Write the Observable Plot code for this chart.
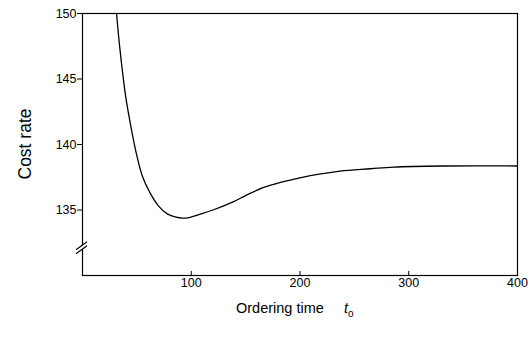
<!DOCTYPE html>
<html>
<head>
<meta charset="utf-8">
<script src="https://cdn.jsdelivr.net/npm/d3@7"></script>
<script src="https://cdn.jsdelivr.net/npm/@observablehq/plot@0.6"></script>
<style>
  html, body { margin: 0; padding: 0; background: #fff; }
  svg { display: block; }
</style>
</head>
<body>
<div id="chart"></div>
<script>
// Ordering time t_o
const orderingTime = [31.3, 34, 37, 40, 44, 49, 55, 62.5, 70, 78, 86, 92, 98, 107, 120, 138, 150, 166, 182, 200, 219, 237, 265, 286, 332, 400];
// Cost rate
const costRate = [150.0, 147.6, 145.4, 143.5, 141.6, 139.5, 137.6, 136.25, 135.3, 134.7, 134.45, 134.38, 134.42, 134.65, 135.0, 135.6, 136.1, 136.7, 137.1, 137.45, 137.75, 137.97, 138.15, 138.28, 138.36, 138.36];
const xTicks = [100, 200, 300, 400];
const yTicks = [135, 140, 145, 150];
const xDomain = [0, 400];
const yDomain = [130, 150];
const breakAt = [132];

const data = orderingTime.map((t, i) => ({t, c: costRate[i]}));
const font = "'Liberation Sans', Arial, Helvetica, sans-serif";

const W = 532, H = 338;
const mL = 82, mR = 15, mT = 13, mB = 63;

const breakMark = (index, scales) => {
  const g = d3.create("svg:g");
  for (const b of breakAt) {
    const x0 = scales.x(xDomain[0]);
    const y0 = scales.y(b);
    g.append("polygon")
      .attr("points", `${x0-6},${y0+1} ${x0+5},${y0-7} ${x0+5},${y0-3} ${x0-6},${y0+5}`)
      .attr("fill", "white");
    g.append("line").attr("x1", x0-6).attr("y1", y0+1).attr("x2", x0+5).attr("y2", y0-7)
      .attr("stroke", "black").attr("stroke-width", 1.1);
    g.append("line").attr("x1", x0-6).attr("y1", y0+5).attr("x2", x0+5).attr("y2", y0-3)
      .attr("stroke", "black").attr("stroke-width", 1.1);
  }
  return g.node();
};

const chart = Plot.plot({
  width: W,
  height: H,
  marginLeft: mL,
  marginRight: mR,
  marginTop: mT,
  marginBottom: mB,
  style: {fontFamily: font, fontSize: "12.5px", color: "black", background: "white"},
  x: {domain: xDomain, ticks: xTicks, label: null},
  y: {domain: yDomain, ticks: yTicks, label: null},
  marks: [
    Plot.frame({stroke: "black", strokeWidth: 1.2}),
    Plot.axisX({ticks: xTicks, tickSize: 0, tickPadding: 3, fontSize: 12.5, label: null}),
    Plot.tickX(xTicks, {x: d => d, insetTop: (H - mT - mB) - 4, stroke: "black", strokeWidth: 1}),
    Plot.axisY({ticks: yTicks, tickSize: 5, tickPadding: 1, fontSize: 12.5, label: null}),
    Plot.line(data, {x: "t", y: "c", curve: "catmull-rom", stroke: "black", strokeWidth: 1.3, clip: true}),
    breakMark
  ]
});

const svg = d3.select(chart);
// y label
svg.append("text")
  .attr("transform", "rotate(-90)")
  .attr("x", -144)
  .attr("y", 31)
  .attr("text-anchor", "middle")
  .attr("font-family", font)
  .attr("font-size", 17.5)
  .attr("fill", "black")
  .text("Cost rate");
// x label
const xl = svg.append("text")
  .attr("y", 313)
  .attr("text-anchor", "start")
  .attr("font-family", font)
  .attr("font-size", 14.5)
  .attr("fill", "black");
xl.append("tspan").attr("x", 236).text("Ordering time");
xl.append("tspan").attr("x", 344).attr("font-style", "italic").text("t");
xl.append("tspan").attr("font-size", 10).attr("dy", 4).text("o");

document.getElementById("chart").appendChild(chart);
</script>
</body>
</html>
